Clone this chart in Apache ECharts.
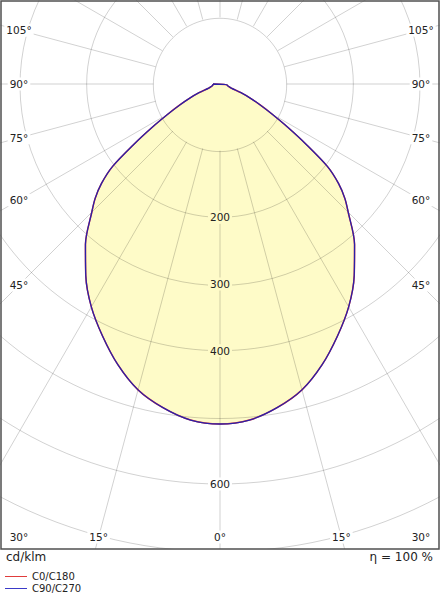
<!DOCTYPE html>
<html>
<head>
<meta charset="utf-8">
<script src="https://cdn.jsdelivr.net/npm/echarts@6/dist/echarts.min.js"></script>
<style>
html,body{margin:0;padding:0;background:#fff;}
#chart{width:440px;height:600px;}
</style>
</head>
<body>
<div id="chart"></div>
<script>
// ---- data (cd/klm vs. gamma angle from nadir) ----
const gammaDeg = [0, 5, 10, 15, 20, 25, 30, 35, 40, 45, 47.5, 50, 52.5, 55, 57.5, 60, 62.5, 65, 67.5, 70, 75, 80, 85, 90];
const c0c180   = [510, 506, 493, 475, 448, 417, 386, 351, 314, 272, 254, 232, 203, 158, 120, 90, 68, 50, 34, 18, 13, 11, 10.5, 10.5];
const c90c270  = [510, 506, 493, 475, 448, 417, 386, 351, 314, 272, 254, 232, 203, 158, 120, 90, 68, 50, 34, 18, 13, 11, 10.5, 10.5];

// ---- grid / tick definitions ----
const ringValues = [100, 200, 300, 400, 500, 600, 700, 800];
const spokeAngles = [0, 15, 30, 45, 60, 75, 90, 105, 120, 135, 150, 165, 180, 195, 210, 225, 240, 255, 270, 285, 300, 315, 330, 345];
const radiusTickLabels = [200, 300, 400, 600];
const bottomAngleLabels = [0, 15, 30];
const sideAngleLabels = [45, 60, 75, 90, 105];
const legendNames = ['C0/C180', 'C90/C270'];

// ---- styling / layout constants ----
const FONT = '"DejaVu Sans", Verdana, sans-serif';
const FILL = '#fefbc8';
const GRID = 'rgba(0,0,0,0.18)';
const TXT = '#222';
const LABEL_LEFT_X = 19, LABEL_RIGHT_X = 421, LABEL_BOTTOM_Y = 537;

// mirror a half-plane curve into polar [radius, angle] pairs (angle 0 = nadir, clockwise)
function toPolar(vals) {
  const out = [];
  for (let i = gammaDeg.length - 1; i >= 0; i--) out.push([vals[i], gammaDeg[i]]);
  for (let i = 1; i < gammaDeg.length; i++) out.push([vals[i], 360 - gammaDeg[i]]);
  out.push(out[0].slice());
  return out;
}

function angleText(a) { return (a > 180 ? 360 - a : a) + '°'; }

const bottomLabelData = [];
bottomAngleLabels.forEach(g => { bottomLabelData.push([0, g]); if (g !== 0) bottomLabelData.push([0, 360 - g]); });
const sideLabelData = [];
sideAngleLabels.forEach(g => { sideLabelData.push([0, g]); sideLabelData.push([0, 360 - g]); });

function dirOf(api, a) {
  const c = api.coord([0, a]);
  const p = api.coord([100, a]);
  return { c, ux: p[0] - c[0], uy: p[1] - c[1] };
}

const chart = echarts.init(document.getElementById('chart'), null, { renderer: 'svg' });
chart.setOption({
  animation: false,
  backgroundColor: '#fff',
  polar: { center: [220, 84], radius: 533.33 },
  angleAxis: {
    type: 'value', min: 0, max: 360, startAngle: -90, clockwise: true, show: false
  },
  radiusAxis: {
    type: 'value', min: 0, max: 800, interval: 100, z: 5,
    axisLine: { show: false }, axisTick: { show: false }, splitLine: { show: false }, splitArea: { show: false },
    axisLabel: {
      margin: 0, align: 'center', verticalAlign: 'middle',
      formatter: v => radiusTickLabels.includes(v) ? (v < c90c270[0] ? '{in|' + v + '}' : '{out|' + v + '}') : '',
      rich: {
        in: { backgroundColor: FILL, padding: [1, 2], fontSize: 10.5, fontFamily: FONT, color: TXT },
        out: { backgroundColor: '#fff', padding: [1, 2], fontSize: 10.5, fontFamily: FONT, color: TXT }
      }
    }
  },
  legend: {
    data: legendNames, orient: 'vertical', left: 5, top: 571, padding: 0, icon: 'rect', itemWidth: 22, itemHeight: 1,
    itemGap: 1, selectedMode: false, z: 110,
    textStyle: { fontSize: 10, fontFamily: FONT, color: TXT, lineHeight: 11 }
  },
  series: [
    {
      type: 'line', coordinateSystem: 'polar', data: toPolar(c90c270), z: 1, silent: true, smooth: 0.3,
      symbol: 'none', lineStyle: { width: 0 }, areaStyle: { color: FILL, opacity: 1 }
    },
    {
      type: 'custom', coordinateSystem: 'polar', z: 2, silent: true,
      data: ringValues.map(v => [v, 0]),
      renderItem: (params, api) => {
        const c = api.coord([0, 0]);
        const p = api.coord([api.value(0), 0]);
        return { type: 'circle', shape: { cx: c[0], cy: c[1], r: Math.hypot(p[0] - c[0], p[1] - c[1]) },
          style: { fill: 'none', stroke: GRID, lineWidth: 1 } };
      }
    },
    {
      type: 'custom', coordinateSystem: 'polar', z: 2, silent: true,
      data: spokeAngles.map(a => [ringValues[0], a]),
      renderItem: (params, api) => {
        const a = api.value(1);
        const p1 = api.coord([ringValues[0], a]);
        const p2 = api.coord([ringValues[ringValues.length - 1], a]);
        return { type: 'line', shape: { x1: p1[0], y1: p1[1], x2: p2[0], y2: p2[1] },
          style: { stroke: GRID, lineWidth: 1 } };
      }
    },
    {
      name: legendNames[0], type: 'line', coordinateSystem: 'polar', data: toPolar(c0c180), z: 3, silent: true, smooth: 0.3,
      symbol: 'none', color: '#e03c3c', itemStyle: { color: '#e03c3c' }, lineStyle: { color: '#e03c3c', width: 1.5 }
    },
    {
      name: legendNames[1], type: 'line', coordinateSystem: 'polar', data: toPolar(c90c270), z: 3, silent: true, smooth: 0.3,
      symbol: 'none', color: '#3a3ac8', itemStyle: { color: '#3a3ac8' }, lineStyle: { color: '#2a20a8', width: 1.3 }
    },
    {
      type: 'custom', coordinateSystem: 'polar', z: 5, silent: true,
      data: bottomLabelData,
      renderItem: (params, api) => {
        const a = api.value(1);
        const d = dirOf(api, a);
        const t = (LABEL_BOTTOM_Y - d.c[1]) / d.uy;
        let x = d.c[0] + t * d.ux;
        x = Math.max(LABEL_LEFT_X, Math.min(LABEL_RIGHT_X, x));
        return { type: 'text', style: { text: angleText(a), x: x, y: LABEL_BOTTOM_Y, align: 'center', verticalAlign: 'middle',
          fill: TXT, font: '10.5px ' + FONT, backgroundColor: '#fff', padding: [1, 2] } };
      }
    },
    {
      type: 'custom', coordinateSystem: 'polar', z: 5, silent: true,
      data: sideLabelData,
      renderItem: (params, api) => {
        const a = api.value(1);
        const d = dirOf(api, a);
        const x = d.ux < 0 ? LABEL_LEFT_X : LABEL_RIGHT_X;
        const t = (x - d.c[0]) / d.ux;
        const y = d.c[1] + t * d.uy;
        return { type: 'text', style: { text: angleText(a), x: x, y: y, align: 'center', verticalAlign: 'middle',
          fill: TXT, font: '10.5px ' + FONT, backgroundColor: '#fff', padding: [1, 2] } };
      }
    }
  ],
  graphic: [
    { type: 'rect', z: 100, silent: true, shape: { x: 0, y: 549, width: 440, height: 51 }, style: { fill: '#fff' } },
    { type: 'rect', z: 101, silent: true, shape: { x: 1, y: 1, width: 438, height: 548 }, style: { fill: 'none', stroke: '#505050', lineWidth: 1.5 } },
    { type: 'text', z: 101, silent: true, style: { text: 'cd/klm', x: 6, y: 557, verticalAlign: 'middle', fill: TXT, font: '12px ' + FONT } },
    { type: 'text', z: 101, silent: true, style: { text: 'η = 100 %', x: 433, y: 557, align: 'right', verticalAlign: 'middle', fill: TXT, font: '12px ' + FONT } }
  ]
});
</script>
</body>
</html>
